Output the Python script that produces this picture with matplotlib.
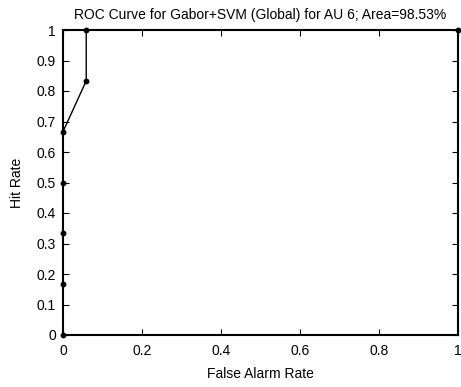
import matplotlib
matplotlib.use("Agg")
import matplotlib.pyplot as plt

far = [0, 0, 0, 0, 0, 1/17, 1/17, 1]
hit = [0, 1/6, 2/6, 3/6, 4/6, 5/6, 1, 1]
xticks = [0, 0.2, 0.4, 0.6, 0.8, 1]
xticklabels = ["0", "0.2", "0.4", "0.6", "0.8", "1"]
yticks = [0, 0.1, 0.2, 0.3, 0.4, 0.5, 0.6, 0.7, 0.8, 0.9, 1]
yticklabels = ["0", "0.1", "0.2", "0.3", "0.4", "0.5", "0.6", "0.7", "0.8", "0.9", "1"]

plt.rcParams['font.family'] = ['Liberation Sans', 'DejaVu Sans']
fig = plt.figure(figsize=(4.61, 3.87), dpi=100)
ax = fig.add_axes([63/461, 52/387, 395/461, 305/387])
ax.plot(far, hit, color='black', lw=1.0, marker='o', ms=3.2, clip_on=False, zorder=3)
ax.set_xlim(0, 1)
ax.set_ylim(0, 1)
ax.set_xticks(xticks)
ax.set_xticklabels(xticklabels)
ax.set_yticks(yticks)
ax.set_yticklabels(yticklabels)
ax.tick_params(direction='in', top=True, right=True, length=4, width=0.8, labelsize=10, pad=5)
ax.tick_params(axis='x', pad=6.5)
for s in ax.spines.values():
    s.set_linewidth(1.5)
ax.set_xlabel("False Alarm Rate", fontsize=10, labelpad=6.5)
ax.set_ylabel("Hit Rate", fontsize=10, labelpad=9)
ax.set_title("ROC Curve for Gabor+SVM (Global) for AU 6; Area=98.53%", fontsize=10, pad=8)
fig.savefig("out.png", dpi=100)
